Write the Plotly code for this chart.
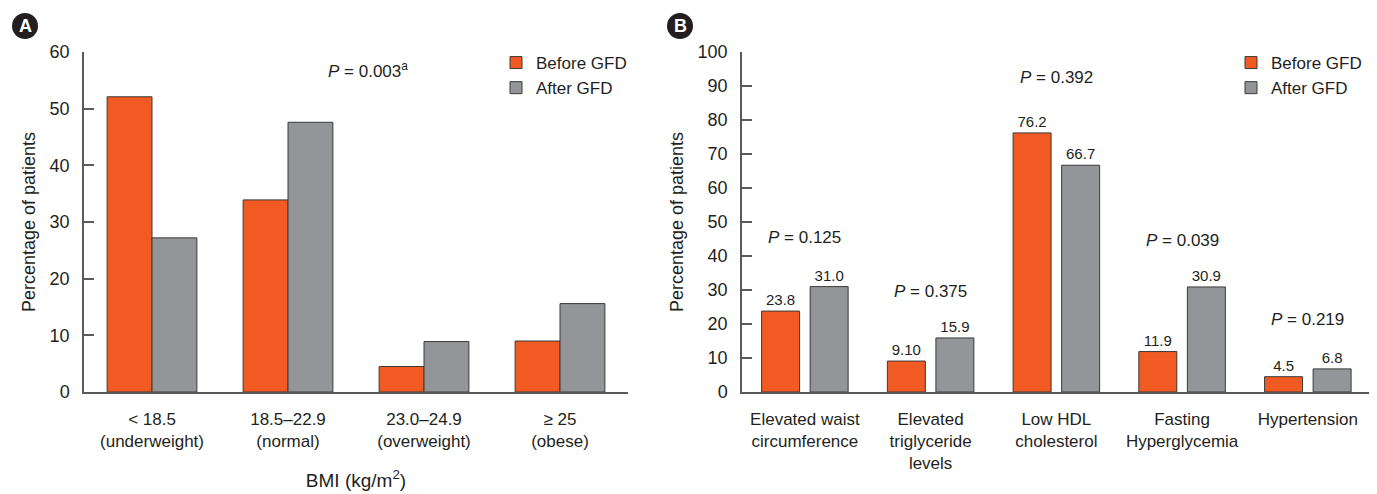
import plotly.graph_objects as go

# page has an 8px default body margin; reference pixel p maps to figure pixel p - 8
OFF = 8
W, H = 1377 - OFF, 494 - OFF

# ---- Data ----
bmi_categories = ["< 18.5<br>(underweight)", "18.5–22.9<br>(normal)", "23.0–24.9<br>(overweight)", "≥ 25<br>(obese)"]
bmi_before = [52.1, 33.9, 4.5, 9.0]
bmi_after = [27.2, 47.6, 8.9, 15.6]
bmi_p_value = "0.003"

ms_categories = ["Elevated waist<br>circumference", "Elevated<br>triglyceride<br>levels",
                 "Low HDL<br>cholesterol", "Fasting<br>Hyperglycemia", "Hypertension"]
ms_before = [23.8, 9.10, 76.2, 11.9, 4.5]
ms_after = [31.0, 15.9, 66.7, 30.9, 6.8]
ms_before_labels = ["23.8", "9.10", "76.2", "11.9", "4.5"]
ms_after_labels = ["31.0", "15.9", "66.7", "30.9", "6.8"]
ms_p_values = ["0.125", "0.375", "0.392", "0.039", "0.219"]
ms_p_label_y = [45.3, 29.7, 92.4, 44.7, 21.2]

series_names = ["Before GFD", "After GFD"]

# ---- Style ----
ORANGE = "#F15A22"
GRAY = "#939598"
EDGE = "#3a3a3a"
AXIS = "#5a5a5a"
TXT = "#231F20"
FONT = "Liberation Sans, Arial, sans-serif"

def px_x(p):
    return (p - OFF) / W

def px_y(p):
    return (H - (p - OFF)) / H

fig = go.Figure()

# Panel A bars
fig.add_trace(go.Bar(x=bmi_categories, y=bmi_before, name=series_names[0], marker_color=ORANGE,
                     marker_line=dict(color=EDGE, width=1), width=0.33, offset=-0.33,
                     xaxis="x", yaxis="y", legend="legend"))
fig.add_trace(go.Bar(x=bmi_categories, y=bmi_after, name=series_names[1], marker_color=GRAY,
                     marker_line=dict(color=EDGE, width=1), width=0.33, offset=0.0,
                     xaxis="x", yaxis="y", legend="legend"))

# Panel B bars
bw = 0.302
fig.add_trace(go.Bar(x=ms_categories, y=ms_before, name=series_names[0], marker_color=ORANGE,
                     marker_line=dict(color=EDGE, width=1), width=bw, offset=-0.344,
                     text=ms_before_labels, textposition="outside", cliponaxis=False,
                     textfont=dict(size=15, color=TXT, family=FONT),
                     xaxis="x2", yaxis="y2", legend="legend2"))
fig.add_trace(go.Bar(x=ms_categories, y=ms_after, name=series_names[1], marker_color=GRAY,
                     marker_line=dict(color=EDGE, width=1), width=bw, offset=0.042,
                     text=ms_after_labels, textposition="outside", cliponaxis=False,
                     textfont=dict(size=15, color=TXT, family=FONT),
                     xaxis="x2", yaxis="y2", legend="legend2"))

ydom = [px_y(392), px_y(52)]

common_x = dict(showline=True, linecolor=AXIS, linewidth=1.5, ticks="", showgrid=False,
                zeroline=False, tickfont=dict(size=17, color=TXT, family=FONT), fixedrange=True,
                automargin=False, ticklabelstandoff=11)
common_y = dict(showline=True, linecolor=AXIS, linewidth=1.5, ticks="inside", ticklen=10,
                tickcolor=AXIS, tickwidth=1.5, showgrid=False, zeroline=False,
                tickfont=dict(size=18, color=TXT, family=FONT), ticklabelstandoff=9, fixedrange=True,
                automargin=False)

fig.update_layout(
    width=W, height=H,
    margin=dict(l=0, r=0, t=0, b=0, autoexpand=False),
    paper_bgcolor="white", plot_bgcolor="white",
    font=dict(family=FONT, color=TXT, size=17),
    barmode="overlay",
    showlegend=True,
    xaxis=dict(domain=[px_x(84), px_x(628)], anchor="y", range=[-0.5, 3.5],
               title=dict(text="BMI (kg/m<sup>2</sup>)", font=dict(size=19, color=TXT, family=FONT), standoff=23),
               **common_x),
    yaxis=dict(domain=ydom, anchor="x", range=[0, 60], tickvals=[0, 10, 20, 30, 40, 50, 60],
               title=dict(text="Percentage of patients", font=dict(size=18, color=TXT, family=FONT), standoff=9),
               **common_y),
    xaxis2=dict(domain=[px_x(742), 1.0], anchor="y2", range=[-0.5, 4.55], **common_x),
    yaxis2=dict(domain=ydom, anchor="x2", range=[0, 100], tickvals=list(range(0, 101, 10)),
                title=dict(text="Percentage of patients", font=dict(size=18, color=TXT, family=FONT), standoff=9),
                **common_y),
    legend=dict(x=px_x(496), y=px_y(45), xanchor="left", yanchor="top", bgcolor="rgba(0,0,0,0)",
                font=dict(size=17, color=TXT, family=FONT), tracegroupgap=0, itemwidth=30),
    legend2=dict(x=px_x(1231), y=px_y(45), xanchor="left", yanchor="top", bgcolor="rgba(0,0,0,0)",
                 font=dict(size=17, color=TXT, family=FONT), tracegroupgap=0, itemwidth=30),
)

annotations = []
annotations.append(dict(xref="paper", yref="paper", x=px_x(368), y=px_y(70),
                        text=f"<i>P</i> = {bmi_p_value}<sup>a</sup>", showarrow=False,
                        font=dict(size=17, color=TXT, family=FONT), xanchor="center", yanchor="middle"))
for i, (pv, py) in enumerate(zip(ms_p_values, ms_p_label_y)):
    annotations.append(dict(xref="x2", yref="y2", x=i, y=py, text=f"<i>P</i> = {pv}", showarrow=False,
                            font=dict(size=17, color=TXT, family=FONT), xanchor="center", yanchor="middle"))

# Panel letters
shapes = []
for letter, cx in [("A", 25), ("B", 680)]:
    shapes.append(dict(type="circle", xref="paper", yref="paper",
                       x0=px_x(cx - 13), x1=px_x(cx + 13), y0=px_y(39), y1=px_y(13),
                       fillcolor="#231F20", line=dict(width=0)))
    annotations.append(dict(xref="paper", yref="paper", x=px_x(cx), y=px_y(26), text=f"<b>{letter}</b>",
                            showarrow=False, font=dict(size=18, color="white", family=FONT),
                            xanchor="center", yanchor="middle"))

fig.update_layout(annotations=annotations, shapes=shapes)

fig.write_html("out.html")
